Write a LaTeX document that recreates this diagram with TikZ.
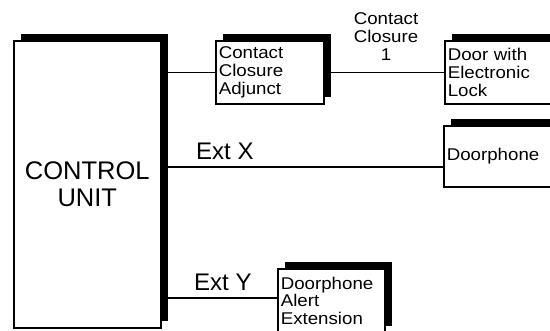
\documentclass[tikz,border=0pt]{standalone}
\usepackage{fontspec}
\setmainfont{Liberation Sans}
\newfontfamily\boxfont{Liberation Sans}[FakeStretch=1.1]
\usetikzlibrary{positioning, shadows}

\begin{document}
\begin{tikzpicture}[
      box/.style={rectangle, draw=black, line width=1.6pt, fill=white, anchor=north west,
        drop shadow={shadow xshift=7.5pt, shadow yshift=7pt, fill=black, opacity=1},
        align=left, inner sep=2pt},
      smalltxt/.style={font=\boxfont\fontsize{17}{17.7}\selectfont},
      wire/.style={line width=1.6pt},
      lbl/.style={font=\fontsize{24}{26}\selectfont, inner sep=0pt},
      x=1pt, y=-1pt
    ]
    \clip (0,0) rectangle (550,330);
    \fill[white] (0,0) rectangle (550,330);
    \node[box, minimum width=147pt, minimum height=287pt, align=center,
          font=\fontsize{25.5}{27}\selectfont] (cu) at (13,40) {CONTROL\\UNIT};
    \node[box, smalltxt, minimum width=108pt, minimum height=63pt, text width=102pt] (adjunct) at (215,40) {Contact\\Closure\\Adjunct};
    \node[box, smalltxt, minimum width=140pt, minimum height=63pt, text width=134pt] (door) at (444,40) {Door with\\Electronic\\Lock};
    \node[box, smalltxt, minimum width=140pt, minimum height=61pt, text width=134pt] (phone) at (443,125) {Doorphone};
    \node[box, smalltxt, minimum width=107pt, minimum height=64pt, text width=101pt] (alert) at (277,268) {Doorphone\\Alert\\Extension};
    % connectors
    \coordinate (cu1) at (cu.east |- adjunct.west);
    \coordinate (cu2) at (cu.east |- 0,167);
    \coordinate (cu3) at (cu.east |- 0,298);
    \draw[wire] (cu1) -- (adjunct.west);
    \draw[wire] (adjunct.east) -- (door.west);
    \draw[wire] (cu2) -- (phone.west |- cu2);
    \draw[wire] (cu3) -- (alert.west |- cu3);
    % labels
    \node[lbl, anchor=base west] (extx) at (196,159) {Ext X};
    \node[lbl, anchor=base west] (exty) at (194,290) {Ext Y};
    \node[align=center, smalltxt, inner sep=0pt, anchor=base] (cc1) at (386,60) {Contact\\Closure\\1};
\end{tikzpicture}
\end{document}
